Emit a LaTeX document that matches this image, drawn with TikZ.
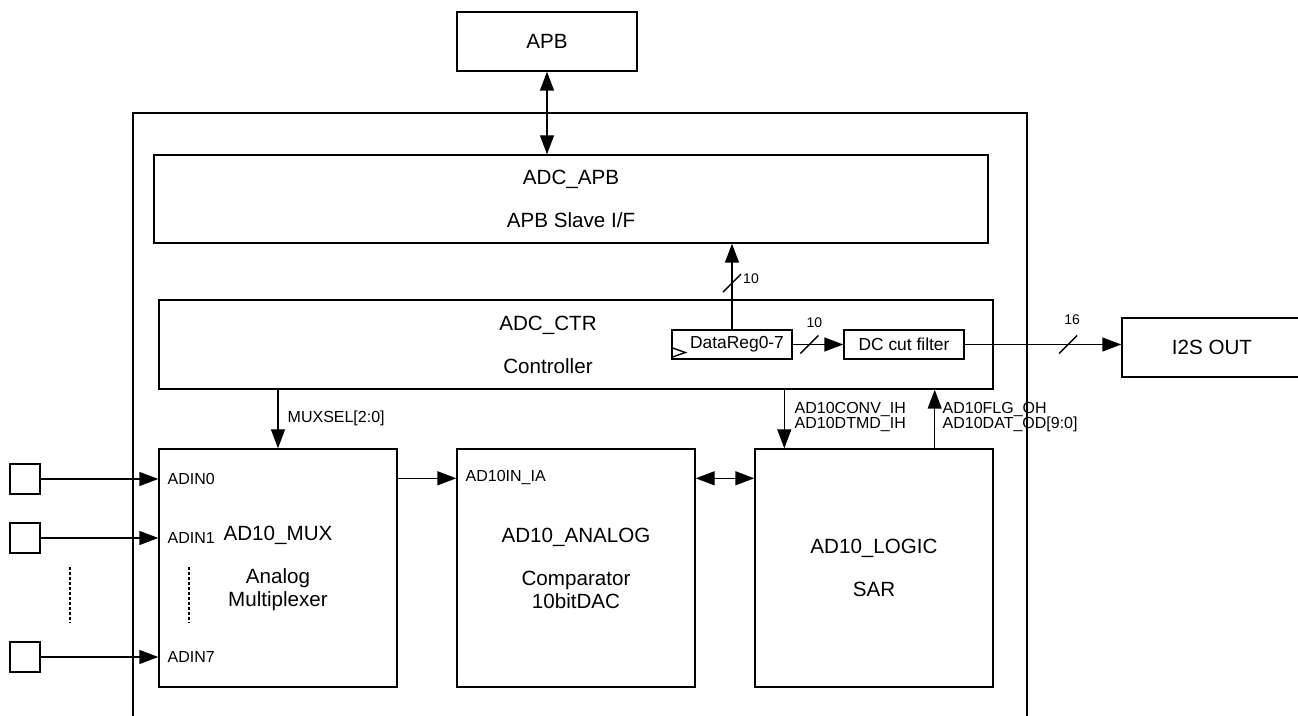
\documentclass[tikz,border=0pt]{standalone}
\usepackage{fontspec}
\setmainfont{Liberation Sans}
\usetikzlibrary{arrows.meta}

\begin{document}
\begin{tikzpicture}[
  x=0.5pt,y=-0.5pt,
  line width=0.7pt,
  box/.style={draw,inner sep=0pt},
  main/.style={align=center,font=\fontsize{10.3}{11.5}\selectfont},
  blk/.style={box,main},
  reg/.style={box,align=center,minimum width=60pt,minimum height=14.5pt,font=\fontsize{8.7}{10}\selectfont},
  pin/.style={box,minimum size=15pt},
  sig/.style={font={\fontsize{8}{7.5}\selectfont\lineskiplimit=-5pt},inner sep=0pt,align=left},
  bits/.style={font=\fontsize{7}{8}\selectfont,inner sep=0pt},
  arr/.style={-{Triangle[length=9.5pt,width=7pt]}},
  dbl/.style={{Triangle[length=9.5pt,width=7pt]}-{Triangle[length=9.5pt,width=7pt]}},
  dotline/.style={line width=1.2pt,dash pattern=on 1.5pt off 1pt}
]
  \useasboundingbox (0,0) rectangle (1298,716);

  % ADC frame, open at the bottom
  \draw (133,716) -- (133,113) -- (1027,113) -- (1027,716);

  \node[blk,minimum width=90pt,minimum height=29.5pt] (apb) at (547,41.5) {APB};
  \node[blk,minimum width=417pt,minimum height=44pt] (apbif) at (571,199) {ADC\_APB\\[10pt]APB Slave I/F};
  \node[box,minimum width=417pt,minimum height=44.5pt] (ctr) at (576,344.5) {};
  \node[main] (ctrtxt) at (548,344.5) {ADC\_CTR\\[10pt]Controller};
  \node[reg] (datareg) at (732,344.5) {\hspace{5pt}DataReg0-7};
  \node[reg] (dcf) at (904,344.5) {DC cut filter};
  \node[blk,minimum width=90pt,minimum height=29.5pt] (i2s) at (1212,347.5) {I2S OUT};

  \node[blk,minimum size=119pt] (mux) at (278,568) {AD10\_MUX\\[10pt]Analog\\Multiplexer};
  \node[blk,minimum size=119pt] (ana) at (576,568) {AD10\_ANALOG\\[10pt]Comparator\\10bitDAC};
  \node[blk,minimum size=119pt] (logic) at (874,568) {AD10\_LOGIC\\[10pt]SAR};

  % input pins
  \node[pin] (pin0) at (25,479) {};
  \node[pin] (pin1) at (25,538) {};
  \node[pin] (pin7) at (25,657) {};
  \draw[dotline] (70,567) -- (70,623);
  \draw[dotline] (189,567) -- (189,623);

  % signal names
  \node[sig,anchor=west] (adin0) at (167,479) {ADIN0};
  \node[sig,anchor=west] (adin1) at (167,538) {ADIN1};
  \node[sig,anchor=west] (adin7) at (167,657) {ADIN7};
  \node[sig,anchor=west] (muxsel) at (287,418) {MUXSEL[2:0]};
  \node[sig,anchor=west] (convlbl) at (794,417) {AD10CONV\_IH\\AD10DTMD\_IH};
  \node[sig,anchor=west] (flglbl) at (942,417) {AD10FLG\_OH\\AD10DAT\_OD[9:0]};
  \node[sig,anchor=west] (inlbl) at (465,478) {AD10IN\_IA};

  % clock mark
  \draw ([shift={(0,3)}]datareg.west) -- ([shift={(14,8)}]datareg.west) -- ([shift={(0,13)}]datareg.west);

  % bus connections
  \draw[dbl] (apb.south) -- (apb.south |- apbif.north);
  \draw[arr] (datareg.north) -- coordinate[pos=0.54] (s1) (datareg.north |- apbif.south);
  \draw ([shift={(-9,9)}]s1) -- ([shift={(9,-9)}]s1);
  \node[bits] (bits1) at ([shift={(19,-4)}]s1) {10};
  \draw[arr] (datareg.east) -- coordinate[pos=0.33] (s2) (dcf.west);
  \draw ([shift={(-9,9)}]s2) -- ([shift={(9,-9)}]s2);
  \node[bits] (bits2) at ([shift={(5,-22)}]s2) {10};
  \draw[arr] (dcf.east) -- coordinate[pos=0.66] (s3) (dcf.east -| i2s.west);
  \draw ([shift={(-9,9)}]s3) -- ([shift={(9,-9)}]s3);
  \node[bits] (bits3) at ([shift={(4,-25)}]s3) {16};

  % control lines
  \coordinate (convtop) at ([xshift=15pt]logic.north west);
  \coordinate (flgbot) at ([xshift=-29.5pt]logic.north east);
  \draw[arr] (mux.north |- ctr.south) -- (mux.north);
  \draw[arr] (convtop |- ctr.south) -- (convtop);
  \draw[arr] (flgbot) -- (flgbot |- ctr.south);

  % analog path
  \draw[arr] (pin0) -- (pin0 -| mux.west);
  \draw[arr] (pin1) -- (pin1 -| mux.west);
  \draw[arr] (pin7) -- (pin7 -| mux.west);
  \coordinate (muxout) at ([yshift=-15pt]mux.north east);
  \coordinate (anaout) at ([yshift=-15pt]ana.north east);
  \draw[arr] (muxout) -- (muxout -| ana.west);
  \draw[dbl] (anaout) -- (anaout -| logic.west);
\end{tikzpicture}
\end{document}
